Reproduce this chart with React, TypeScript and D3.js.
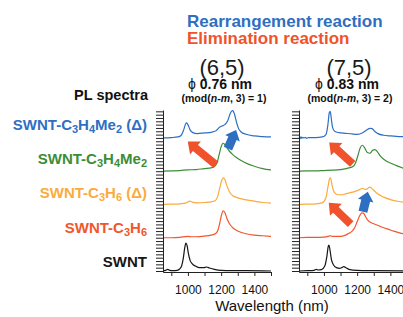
import React, { useEffect, useRef } from 'react';
import * as d3 from 'd3';

type Pt = [number, number];

// PL spectra, [wavelength (nm), intensity in stack units]
// (6,5) panel
const black65: Pt[] = [[850, 0], [865, 0.02], [878, 0.05], [890, 0.02], [910, 0.01], [935, 0.02], [950, 0.06], [962, 0.15], [972, 0.38], [981, 0.7], [988, 0.84], [995, 0.76], [1003, 0.52], [1013, 0.32], [1025, 0.22], [1045, 0.15], [1070, 0.1], [1095, 0.1], [1112, 0.12], [1130, 0.09], [1160, 0.05], [1200, 0.02], [1260, 0.01], [1350, 0.01], [1500, 0]];
const red65: Pt[] = [[850, 0], [900, 0], [950, 0.01], [1000, 0.04], [1020, 0.03], [1050, 0.03], [1100, 0.05], [1140, 0.08], [1165, 0.12], [1180, 0.22], [1192, 0.45], [1202, 0.68], [1212, 0.81], [1222, 0.76], [1235, 0.58], [1250, 0.42], [1270, 0.3], [1300, 0.2], [1350, 0.12], [1400, 0.08], [1450, 0.06], [1500, 0.04]];
const orange65: Pt[] = [[850, 0], [900, 0.01], [950, 0.02], [990, 0.05], [1012, 0.1], [1028, 0.07], [1055, 0.05], [1100, 0.06], [1140, 0.08], [1165, 0.12], [1180, 0.25], [1192, 0.5], [1203, 0.72], [1213, 0.8], [1223, 0.74], [1235, 0.56], [1250, 0.38], [1270, 0.26], [1300, 0.2], [1330, 0.16], [1400, 0.1], [1450, 0.06], [1500, 0.04]];
const green65: Pt[] = [[850, 0], [900, 0.01], [950, 0.02], [1000, 0.04], [1050, 0.05], [1100, 0.08], [1140, 0.1], [1160, 0.14], [1175, 0.25], [1188, 0.5], [1200, 0.74], [1212, 0.84], [1222, 0.8], [1235, 0.7], [1250, 0.6], [1270, 0.5], [1290, 0.42], [1320, 0.32], [1360, 0.22], [1400, 0.15], [1450, 0.08], [1500, 0.04]];
const blue65: Pt[] = [[850, 0], [900, 0.01], [940, 0.03], [960, 0.08], [975, 0.25], [986, 0.42], [993, 0.45], [1000, 0.4], [1012, 0.25], [1030, 0.16], [1055, 0.13], [1100, 0.15], [1140, 0.17], [1170, 0.22], [1190, 0.32], [1205, 0.36], [1222, 0.4], [1238, 0.5], [1252, 0.7], [1262, 0.8], [1270, 0.82], [1280, 0.72], [1292, 0.48], [1305, 0.28], [1320, 0.18], [1350, 0.11], [1400, 0.06], [1450, 0.04], [1500, 0.03]];

// (7,5) panel
const black75: Pt[] = [[850, 0], [900, 0.01], [940, 0.02], [955, 0.05], [965, 0.03], [985, 0.04], [1005, 0.15], [1018, 0.45], [1026, 0.74], [1030, 0.78], [1036, 0.65], [1045, 0.35], [1058, 0.18], [1075, 0.1], [1095, 0.08], [1110, 0.11], [1120, 0.13], [1132, 0.1], [1150, 0.05], [1200, 0.02], [1300, 0.01], [1500, 0]];
const red75: Pt[] = [[850, 0], [900, 0.01], [950, 0.01], [1000, 0.02], [1025, 0.04], [1038, 0.06], [1050, 0.04], [1100, 0.04], [1130, 0.08], [1153, 0.14], [1170, 0.2], [1185, 0.3], [1200, 0.48], [1215, 0.66], [1228, 0.75], [1238, 0.74], [1250, 0.64], [1265, 0.52], [1285, 0.45], [1300, 0.42], [1330, 0.36], [1360, 0.3], [1390, 0.25], [1420, 0.2], [1460, 0.14], [1500, 0.1]];
const orange75: Pt[] = [[850, 0], [900, 0.01], [950, 0.02], [990, 0.05], [1012, 0.2], [1025, 0.55], [1034, 0.78], [1040, 0.8], [1048, 0.6], [1062, 0.37], [1080, 0.3], [1103, 0.29], [1130, 0.32], [1153, 0.35], [1180, 0.38], [1203, 0.42], [1233, 0.48], [1252, 0.45], [1265, 0.49], [1277, 0.52], [1295, 0.45], [1323, 0.32], [1360, 0.22], [1404, 0.14], [1450, 0.09], [1500, 0.06]];
const green75: Pt[] = [[850, 0], [900, 0.01], [950, 0.01], [1000, 0.02], [1050, 0.03], [1100, 0.05], [1150, 0.1], [1175, 0.14], [1190, 0.25], [1205, 0.48], [1218, 0.7], [1232, 0.78], [1245, 0.7], [1262, 0.56], [1277, 0.54], [1292, 0.62], [1307, 0.65], [1322, 0.58], [1340, 0.45], [1370, 0.32], [1404, 0.24], [1440, 0.16], [1480, 0.09], [1500, 0.07]];
const blue75: Pt[] = [[850, 0.02], [856, -0.02], [862, 0.03], [868, -0.01], [874, 0.02], [880, 0], [888, 0.02], [895, -0.01], [905, 0.01], [950, 0.01], [990, 0.03], [1012, 0.1], [1024, 0.4], [1032, 0.75], [1038, 0.8], [1044, 0.6], [1052, 0.32], [1065, 0.2], [1090, 0.16], [1130, 0.14], [1170, 0.12], [1203, 0.11], [1230, 0.15], [1255, 0.23], [1278, 0.29], [1290, 0.28], [1305, 0.2], [1325, 0.13], [1360, 0.08], [1404, 0.06], [1450, 0.04], [1500, 0.04]];

// bottom to top
const spectra65 = [black65, red65, orange65, green65, blue65];
const spectra75 = [black75, red75, orange75, green75, blue75];
const sampleLabels = ['SWNT', 'SWNT-C_3H_6', 'SWNT-C_3H_6 (Δ)', 'SWNT-C_3H_4Me_2', 'SWNT-C_3H_4Me_2 (Δ)'];
const colors = ['#161616', '#f2562d', '#fbab3e', '#3d8d38', '#2f6fc2'];

const xTicks = [900, 1000, 1100, 1200, 1300, 1400, 1500];
const xTickLabels = [1000, 1200, 1400];

// reaction arrows: [wavelength, stack units]
type Arrow = { kind: 'elim' | 'rearr'; tail: Pt; tip: Pt };
const arrows65: Arrow[] = [
  { kind: 'elim', tail: [1169, 3.19], tip: [999, 3.89] },
  { kind: 'rearr', tail: [1241, 3.68], tip: [1290, 4.24] },
];
const arrows75: Arrow[] = [
  { kind: 'elim', tail: [1173, 3.22], tip: [1032, 3.86] },
  { kind: 'elim', tail: [1161, 1.41], tip: [1029, 2.05] },
  { kind: 'rearr', tail: [1235, 1.78], tip: [1264, 2.38] },
];

const BLUE = '#2f6fc2';
const RED = '#f0532b';

const App: React.FC = () => {
  const svgRef = useRef<SVGSVGElement | null>(null);

  useEffect(() => {
    const font = "'Liberation Sans', Arial, Helvetica, sans-serif";
    const svg = d3.select(svgRef.current)
      .attr('width', 403)
      .attr('height', 317)
      .attr('font-family', font);
    svg.selectAll('*').remove();

    const y = d3.scaleLinear().domain([-0.03, 4.84]).range([272, 110]);

    const panels = [
      { spectra: spectra65, arrows: arrows65, range: [163, 271], name: '(6,5)', dia: '0.76', mod: '1', cx: 220, modCx: 224 },
      { spectra: spectra75, arrows: arrows75, range: [299, 407], name: '(7,5)', dia: '0.83', mod: '2', cx: 347, modCx: 350 },
    ];

    panels.forEach(p => {
      const x = d3.scaleLinear().domain([850, 1500]).range(p.range);
      const g = svg.append('g');

      // spectra
      p.spectra.forEach((s, i) => {
        const line = d3.line<Pt>()
          .x(d => x(d[0]))
          .y(d => y(d[1] + i))
          .curve(d3.curveMonotoneX);
        g.append('path')
          .datum(s)
          .attr('fill', 'none')
          .attr('stroke', colors[i])
          .attr('stroke-width', 1.2)
          .attr('d', line);
      });

      // arrows
      p.arrows.forEach(a => {
        const [tx, ty] = [x(a.tail[0]), y(a.tail[1])];
        const [hx, hy] = [x(a.tip[0]), y(a.tip[1])];
        const len = Math.hypot(hx - tx, hy - ty);
        const ux = (hx - tx) / len, uy = (hy - ty) / len;
        const nx = -uy, ny = ux;
        const shaft = a.kind === 'elim' ? 8 : 9;
        const head = a.kind === 'elim' ? 17 : 16;
        const headL = a.kind === 'elim' ? 10 : 9;
        const bx = hx - ux * headL, by = hy - uy * headL;
        const pts: Pt[] = [
          [tx + nx * shaft / 2, ty + ny * shaft / 2],
          [bx + nx * shaft / 2, by + ny * shaft / 2],
          [bx + nx * head / 2, by + ny * head / 2],
          [hx, hy],
          [bx - nx * head / 2, by - ny * head / 2],
          [bx - nx * shaft / 2, by - ny * shaft / 2],
          [tx - nx * shaft / 2, ty - ny * shaft / 2],
        ];
        g.append('path')
          .attr('d', 'M' + pts.map(q => q.join(',')).join('L') + 'Z')
          .attr('fill', a.kind === 'elim' ? RED : BLUE);
      });

      // axes
      const yAxis = g.append('g')
        .attr('transform', `translate(${p.range[0]},0)`)
        .call(d3.axisLeft(y).tickValues(d3.range(0, 4.85, 0.1)).tickSize(7).tickSizeOuter(0).tickFormat(() => ''));
      yAxis.selectAll('line, path').attr('stroke', '#222');

      const xAxis = g.append('g')
        .attr('transform', `translate(0,${y(-0.03)})`)
        .call(d3.axisBottom(x).tickValues(xTicks).tickSize(4).tickSizeOuter(0).tickPadding(9)
          .tickFormat(d => (xTickLabels.includes(+d) ? String(d) : '')));
      xAxis.selectAll('line, path').attr('stroke', '#222');
      xAxis.selectAll('text').attr('font-size', 12).attr('font-family', font).attr('fill', '#111');

      // headers
      g.append('text').attr('x', p.cx + 2).attr('y', 75).attr('text-anchor', 'middle')
        .attr('font-size', 22).attr('fill', '#1a1a1a').text(p.name);
      const dt = g.append('text').attr('x', p.cx).attr('y', 89).attr('text-anchor', 'middle')
        .attr('font-size', 14).attr('fill', '#111');
      dt.append('tspan').text('ϕ ');
      dt.append('tspan').attr('font-weight', 'bold').text(`${p.dia} nm`);
      const mt = g.append('text').attr('x', p.modCx).attr('y', 101.5).attr('text-anchor', 'middle')
        .attr('font-size', 10.5).attr('font-weight', 'bold').attr('fill', '#111');
      mt.append('tspan').text('(mod(');
      mt.append('tspan').attr('font-style', 'italic').text('n');
      mt.append('tspan').text('-');
      mt.append('tspan').attr('font-style', 'italic').text('m');
      mt.append('tspan').text(`, 3) = ${p.mod})`);
    });

    // sample labels with subscripts
    sampleLabels.forEach((lab, i) => {
      const t = svg.append('text')
        .attr('x', 147)
        .attr('y', y(i) - 4 - i)
        .attr('text-anchor', 'end')
        .attr('font-size', 15)
        .attr('font-weight', 'bold')
        .attr('fill', colors[i]);
      let shifted = false;
      lab.split(/(_\d)/).filter(s => s.length).forEach(part => {
        if (part.startsWith('_')) {
          t.append('tspan').attr('font-size', 11).attr('dy', shifted ? 0 : 3).text(part.slice(1));
          shifted = true;
        } else {
          t.append('tspan').attr('dy', shifted ? -3 : 0).text(part);
          shifted = false;
        }
      });
    });

    svg.append('text').attr('x', 148).attr('y', 100).attr('text-anchor', 'end')
      .attr('font-size', 14.5).attr('font-weight', 'bold').attr('fill', '#111').text('PL spectra');

    svg.append('text').attr('x', 187).attr('y', 27)
      .attr('font-size', 17).attr('font-weight', 'bold').attr('fill', BLUE).text('Rearrangement reaction');
    svg.append('text').attr('x', 187).attr('y', 44)
      .attr('font-size', 17).attr('font-weight', 'bold').attr('fill', RED).text('Elimination reaction');

    svg.append('text').attr('x', 272).attr('y', 310.5).attr('text-anchor', 'middle')
      .attr('font-size', 15).attr('fill', '#111').text('Wavelength (nm)');
  }, []);

  return (
    <svg ref={svgRef} style={{ position: 'absolute', left: 0, top: 0, background: '#fff' }}></svg>
  );
};

export default App;
